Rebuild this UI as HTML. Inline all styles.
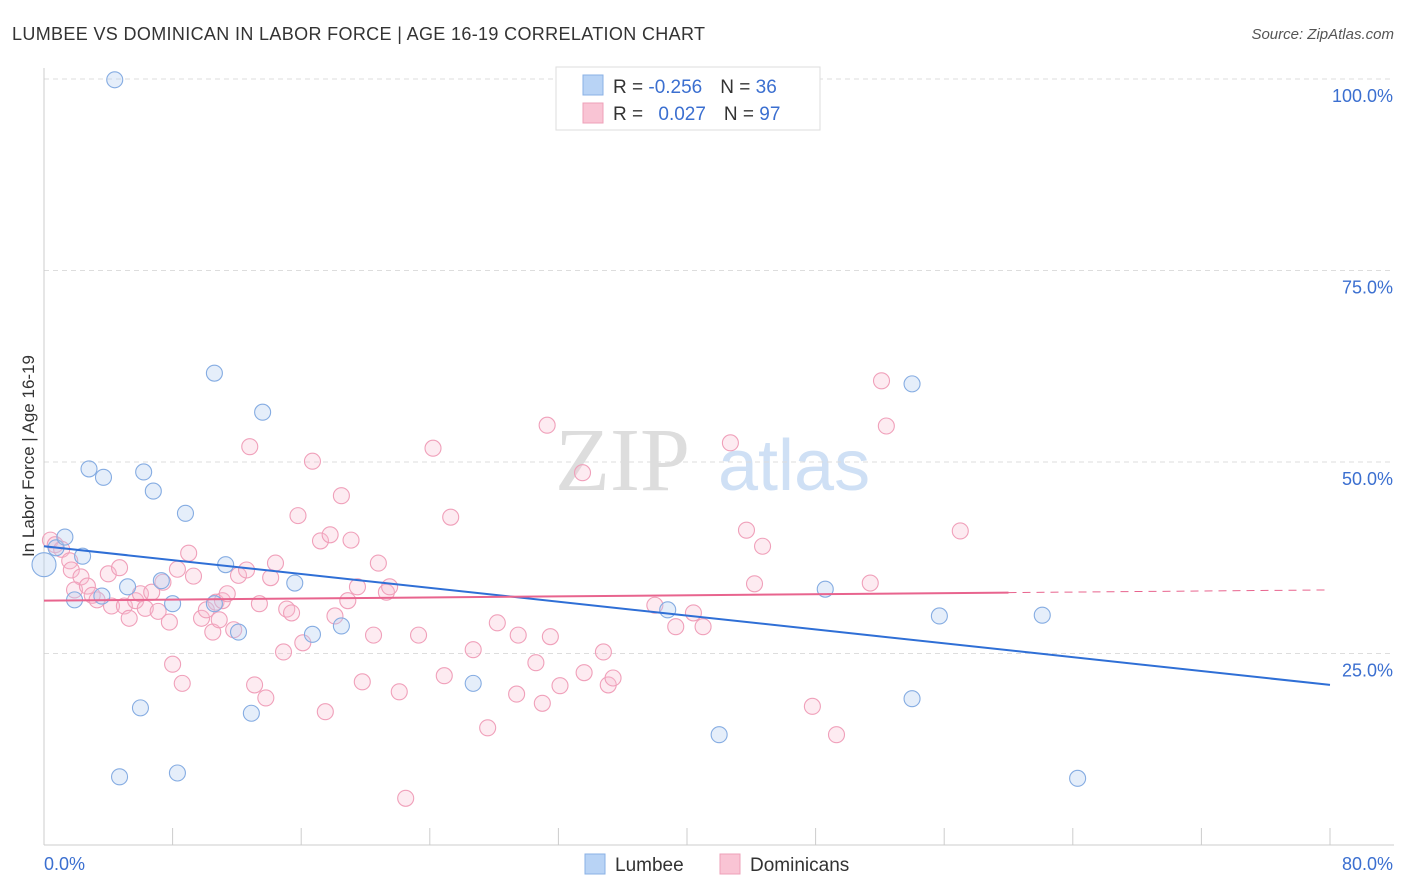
<!DOCTYPE html>
<html><head><meta charset="utf-8"><style>
body{margin:0;background:#fff;font-family:"Liberation Sans",sans-serif;}
svg{display:block}
</style></head><body>
<svg id="c" width="1406" height="892">
<text x="12" y="40" font-size="18" fill="#333" textLength="693">LUMBEE VS DOMINICAN IN LABOR FORCE | AGE 16-19 CORRELATION CHART</text>
<text x="1394" y="39" font-size="15" fill="#555" font-style="italic" text-anchor="end">Source: ZipAtlas.com</text>
<g>
<text x="555" y="490" font-size="90" fill="#ddd" font-family="Liberation Serif,serif">ZIP</text>
<text x="718" y="490" font-size="72" fill="#cfe0f5">atlas</text>
</g>
<g id="grid"></g><g id="axes"></g><g id="marks"></g>
<text x="34" y="456" font-size="17" fill="#333" text-anchor="middle" transform="rotate(-90 34 456)">In Labor Force | Age 16-19</text>
<g>
<rect x="556" y="67" width="264" height="63" fill="#fff" stroke="#ddd"/>
<rect x="583" y="75" width="20" height="20" fill="#b8d3f5" stroke="#8ab0e5"/>
<rect x="583" y="103" width="20" height="20" fill="#f9c4d4" stroke="#eea0b8"/>
<text x="613" y="93" font-size="19" fill="#333">R = <tspan fill="#3b6fd0">-0.256</tspan><tspan dx="18">N = </tspan><tspan fill="#3b6fd0">36</tspan></text>
<text x="613" y="120" font-size="19" fill="#333">R = <tspan fill="#3b6fd0" dx="10">0.027</tspan><tspan dx="18">N = </tspan><tspan fill="#3b6fd0">97</tspan></text>
</g>
<g>
<rect x="585" y="854" width="20" height="20" fill="#b8d3f5" stroke="#8ab0e5"/>
<text x="615" y="871" font-size="19" fill="#333">Lumbee</text>
<rect x="720" y="854" width="20" height="20" fill="#f9c4d4" stroke="#eea0b8"/>
<text x="750" y="871" font-size="19" fill="#333">Dominicans</text>
</g>
<text x="44" y="870" font-size="18" fill="#3b6fd0">0.0%</text>
<text x="1393" y="870" font-size="18" fill="#3b6fd0" text-anchor="end">80.0%</text>
</svg>
<script>
const yTicks=[100,75,50,25];
const yTickLabels=["100.0%","75.0%","50.0%","25.0%"];
const xTicks=[0,8,16,24,32,40,48,56,64,72,80];
const lumbeeX=[4.4,0,0.75,1.3,2.4,1.9,2.8,3.7,3.6,5.2,6.2,6.8,7.3,8.0,8.8,6.0,4.7,8.3,10.6,10.6,11.3,12.1,13.6,12.9,15.6,16.7,18.5,26.7,38.8,42,48.6,54.0,55.7,54,62.1,64.3];
const lumbeeY=[99.9,36.6,38.8,40.2,37.7,32,49.1,48,32.5,33.7,48.7,46.2,34.5,31.5,43.3,17.9,8.9,9.4,61.6,31.5,36.6,27.8,56.5,17.2,34.2,27.5,28.6,21.1,30.7,14.4,33.4,60.2,29.9,19.1,30,8.7];
const domPx=[[50,540],[56,545],[62,549],[69,561],[72,570],[81,577],[75,590],[88,586],[93,595],[97,600],[108,574],[112,606],[120,568],[125,606],[130,618],[136,601],[140,594],[146,608],[152,592],[158,611],[163,582],[169,622],[172,664],[178,569],[183,683],[188,553],[194,576],[201,618],[207,610],[212,632],[216,602],[219,620],[223,601],[228,594],[233,630],[238,575],[246,570],[249,447],[254,685],[260,604],[266,698],[270,578],[276,563],[283,652],[287,609],[292,613],[298,516],[303,643],[313,461],[320,541],[326,712],[330,535],[335,616],[342,496],[348,601],[351,540],[357,587],[363,682],[373,635],[379,563],[386,592],[390,587],[399,692],[405,798],[419,635],[433,448],[445,676],[451,517],[474,650],[487,728],[497,623],[516,694],[518,635],[536,663],[543,703],[547,425],[550,637],[560,686],[582,473],[584,673],[604,652],[608,685],[613,678],[655,605],[675,627],[693,613],[703,627],[730,443],[746,530],[755,584],[762,546],[812,706],[837,735],[871,583],[881,381],[887,426],[961,531]];
const domX=domPx.map(p=>+((p[0]-44)/16.075).toFixed(1));
const domY=domPx.map(p=>+((845-p[1])/7.66).toFixed(1));
const lumbeeTrend=[39.0,20.9];
const domTrend=[31.9,33.3];
const domSolidEnd=60;
const X=v=>44+v*16.075, Y=v=>845-v*7.66;
const NS="http://www.w3.org/2000/svg";
function mk(t,a,p){const e=document.createElementNS(NS,t);for(const k in a)e.setAttribute(k,a[k]);p.appendChild(e);return e;}
const grid=document.getElementById('grid'),axes=document.getElementById('axes'),marks=document.getElementById('marks');
yTicks.forEach((t,i)=>{
 const l=mk('line',{x1:44,x2:1394,y1:Y(t),y2:Y(t),stroke:'#ddd','stroke-dasharray':'5,4'},grid);
 
 
 const tx=mk('text',{x:1393,y:Y(t)+23,'font-size':18,fill:'#3b6fd0','text-anchor':'end'},grid);
 tx.textContent=yTickLabels[i];
 
 
});
const xa=mk('line',{x1:44,x2:1394,y1:845,y2:845,stroke:'#ccc'},axes);


const ya=mk('line',{x1:44,x2:44,y1:68,y2:845,stroke:'#ccc'},axes);


xTicks.forEach(t=>{const l=mk('line',{x1:X(t),x2:X(t),y1:828,y2:845,stroke:'#ccc'},axes);
 
 });
domX.forEach((x,i)=>{const c=mk('circle',{cx:X(x),cy:Y(domY[i]),r:8,fill:'rgba(249,190,210,0.3)',stroke:'#f0a0ba','stroke-width':1.1},marks);
 
 });
lumbeeX.forEach((x,i)=>{const c=mk('circle',{cx:X(x),cy:Y(lumbeeY[i]),r:i==1?12:8,fill:'rgba(180,205,240,0.35)',stroke:'#85ace2','stroke-width':1.1},marks);
 
 });
const bt=mk('line',{x1:X(0),y1:Y(lumbeeTrend[0]),x2:X(80),y2:Y(lumbeeTrend[1]),stroke:'#2f6fd6','stroke-width':2},marks);


const pm=domTrend[0]+(domTrend[1]-domTrend[0])*domSolidEnd/80;
const pt=mk('line',{x1:X(0),y1:Y(domTrend[0]),x2:X(domSolidEnd),y2:Y(pm),stroke:'#e8648e','stroke-width':2},marks);


const pd=mk('line',{x1:X(domSolidEnd),y1:Y(pm),x2:X(80),y2:Y(domTrend[1]),stroke:'#e8648e','stroke-width':1,'stroke-dasharray':'8,6'},marks);


</script>
</body></html>
